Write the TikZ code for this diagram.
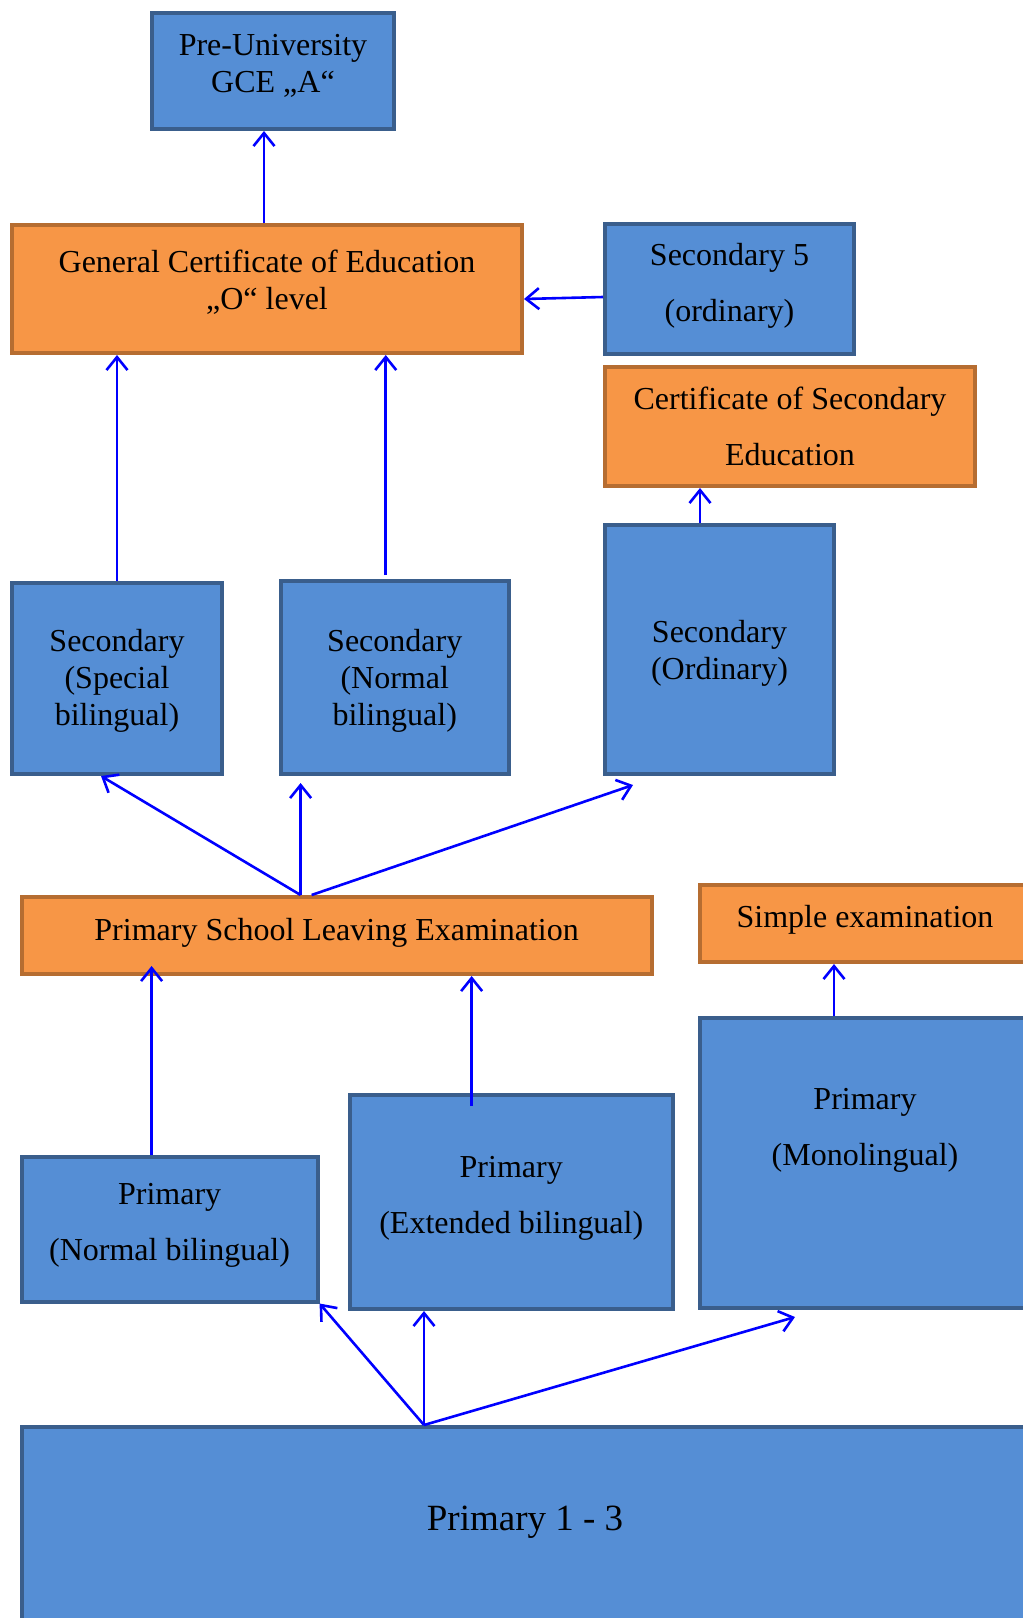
\documentclass[tikz,border=0pt]{standalone}
\usepackage{fontspec}
\setmainfont{Liberation Serif}
\usetikzlibrary{arrows.meta}
\definecolor{boxblue}{RGB}{85,142,213}
\definecolor{boxblueline}{RGB}{58,94,140}
\definecolor{boxorange}{RGB}{247,150,70}
\definecolor{boxorangeline}{RGB}{182,109,49}
\begin{document}
\begin{tikzpicture}[x=1pt,y=-1pt,%
  bluebox/.style={draw=boxblueline,fill=boxblue,line width=4pt,inner sep=0pt},%
  orangebox/.style={draw=boxorangeline,fill=boxorange,line width=4pt,inner sep=0pt},%
  tight/.style={align=center,font=\fontsize{32}{37}\selectfont},%
  loose/.style={align=center,font=\fontsize{32}{56}\selectfont},%
  link/.style={draw=blue,line width=2.6pt,-{Straight Barb[length=13pt,width=21pt]}}]%
\clip (0,0) rectangle (1023,1618);%
%
\node[bluebox,minimum width=242pt,minimum height=116pt] (preuni) at (273,71) {};%
\node[tight] (preunitext) at (273,66) {Pre-University\\GCE „A“};%
\node[orangebox,minimum width=510pt,minimum height=128pt] (gceo) at (267,289) {};%
\node[tight] (gceotext) at (267,282.5) {General Certificate of Education\\„O“ level};%
\node[bluebox,minimum width=249pt,minimum height=130pt] (sec5) at (729.5,289) {};%
\node[loose] (sec5text) at (729.5,286) {Secondary 5\\(ordinary)};%
\node[orangebox,minimum width=370pt,minimum height=119pt] (cert) at (790,426.5) {};%
\node[loose] (certtext) at (790,426.5) {Certificate of Secondary\\Education};%
%
\node[bluebox,minimum width=210pt,minimum height=191pt] (secspec) at (117,678.5) {};%
\node[tight] (secspectext) at (117,680.5) {Secondary\\(Special\\bilingual)};%
\node[bluebox,minimum width=228.5pt,minimum height=193pt] (secnorm) at (394.75,677.5) {};%
\node[tight] (secnormtext) at (394.75,680.5) {Secondary\\(Normal\\bilingual)};%
\node[bluebox,minimum width=229pt,minimum height=249pt] (secord) at (719.5,649.5) {};%
\node[tight] (secordtext) at (719.5,653) {Secondary\\(Ordinary)};%
%
\node[orangebox,minimum width=630pt,minimum height=77pt] (psle) at (336.6,935.5) {};%
\node[tight] (psletext) at (336.6,932.5) {Primary School Leaving Examination};%
\node[orangebox,minimum width=330pt,minimum height=77pt] (simple) at (865,923.5) {};%
\node[tight] (simpletext) at (865,919.5) {Simple examination};%
%
\node[bluebox,minimum width=296pt,minimum height=144.5pt] (pnorm) at (169.6,1229.25) {};%
\node[loose] (pnormtext) at (169.6,1225.5) {Primary\\(Normal bilingual)};%
\node[bluebox,minimum width=322.5pt,minimum height=214pt] (pext) at (511.25,1202) {};%
\node[loose] (pexttext) at (511.25,1198) {Primary\\(Extended bilingual)};%
\node[bluebox,minimum width=330pt,minimum height=290pt] (pmono) at (865,1163) {};%
\node[loose] (pmonotext) at (865,1130.5) {Primary\\(Monolingual)};%
\node[bluebox,minimum width=1006pt,minimum height=370pt] (p13) at (525,1612) {};%
\node[font=\fontsize{37}{44}\selectfont] (p13text) at (525,1522) {Primary 1 - 3};%
%
\coordinate (psleout) at ([xshift=-36pt]psle.north);%
\coordinate (psleout2) at ([xshift=-25pt]psle.north);%
\coordinate (secnormbot) at ([yshift=-7pt]secnorm.south);%
\coordinate (p13out) at ([xshift=-101pt]p13.north);%
%
\draw[link] ([xshift=-3pt]gceo.north) -- ([xshift=-3pt]gceo.north |- preuni.south);%
\draw[link] ([yshift=-8pt]sec5.west) -- ([yshift=-10pt]gceo.east);%
\draw[link] (secspec.north) -- (secspec.north |- gceo.south);%
\draw[link] ([xshift=-9pt,yshift=4pt]secnorm.north) -- ([xshift=-9pt]secnorm.north |- gceo.south);%
\draw[link] ([xshift=-19.5pt]secord.north) -- ([xshift=-19.5pt]secord.north |- cert.south);%
%
\draw[link] (psleout) -- ([xshift=-16pt]secspec.south);%
\draw[link] (psleout) -- (psleout |- secnormbot);%
\draw[link] (psleout2) -- ([xshift=30pt,yshift=-9pt]secord.south west);%
%
\draw[link] ([xshift=-18pt]pnorm.north) -- ([xshift=-18pt,yshift=10pt]pnorm.north |- psle.south);%
\draw[link] ([xshift=-39.6pt,yshift=-13pt]pext.north) -- ([xshift=-39.6pt]pext.north |- psle.south);%
\draw[link] ([xshift=-31pt]pmono.north) -- ([xshift=-31pt]pmono.north |- simple.south);%
%
\draw[link] (p13out) -- (pnorm.south east);%
\draw[link] (p13out) -- (p13out |- pext.south);%
\draw[link] (p13out) -- ([xshift=-70pt,yshift=-7pt]pmono.south);%
\end{tikzpicture}
\end{document}
